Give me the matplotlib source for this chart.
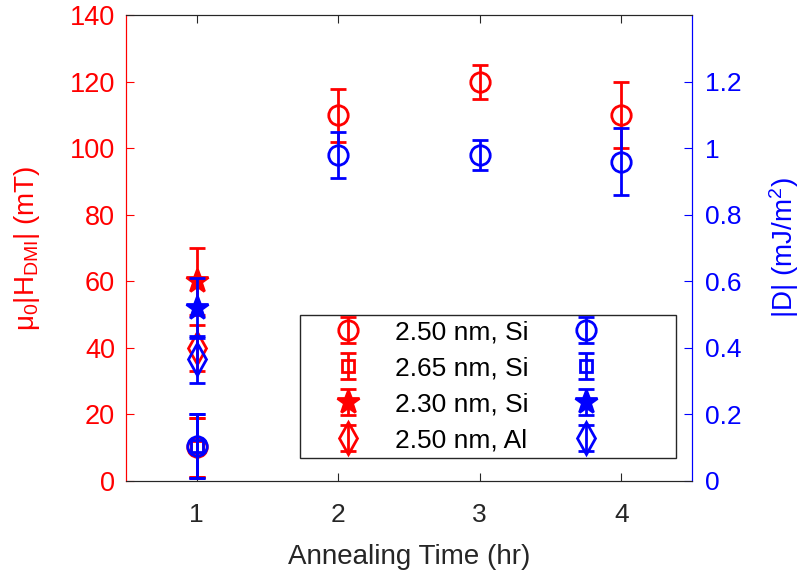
import matplotlib
matplotlib.use("Agg")
import matplotlib.pyplot as plt

plt.rcParams['font.family'] = ['Liberation Sans', 'DejaVu Sans']
plt.rcParams['mathtext.default'] = 'regular'

# annealing time (hr) per sample
t_250si = [1, 2, 3, 4]
t_265si = [1]
t_230si = [1]
t_250al = [1]

# mu0|H_DMI| (mT) and its error
h_250si = [10, 110, 120, 110]
herr_250si = [9, 8, 5, 10]
h_265si = [10]
herr_265si = [9]
h_230si = [60]
herr_230si = [10]
h_250al = [40]
herr_250al = [7]

# |D| (mJ/m^2) and its error
d_250si = [0.105, 0.98, 0.98, 0.96]
derr_250si = [0.097, 0.07, 0.045, 0.10]
d_265si = [0.105]
derr_265si = [0.097]
d_230si = [0.52]
derr_230si = [0.09]
d_250al = [0.365]
derr_250al = [0.07]

labels = ['2.50 nm, Si', '2.65 nm, Si', '2.30 nm, Si', '2.50 nm, Al']
xticks = [1, 2, 3, 4]
left_ticks = [0, 20, 40, 60, 80, 100, 120, 140]
right_ticks = [0, 0.2, 0.4, 0.6, 0.8, 1, 1.2]

red = (1, 0, 0)
blue = (0, 0, 1)
grey = (0.15, 0.15, 0.15)

fig = plt.figure(figsize=(8.04, 5.77), dpi=100)
ax = fig.add_axes([0.1567, 0.1669, 0.704, 0.8063])
ax2 = ax.twinx()

def series(a, t, y, e, marker, ms, color, filled=False):
    return a.errorbar(t, y, yerr=e, fmt=marker, ms=ms, color=color,
                      mfc=color if filled else 'none', mec=color, mew=2,
                      elinewidth=2, capsize=6, capthick=2, linestyle='none')

specs = [('o', 14, False), ('s', 9, False), ('*', 17, True), ('d', 16, False)]
times = [t_250si, t_265si, t_230si, t_250al]

red_h = [series(ax, t, y, e, m, ms, red, f)
         for (m, ms, f), t, y, e in zip(specs, times,
                                        [h_250si, h_265si, h_230si, h_250al],
                                        [herr_250si, herr_265si, herr_230si, herr_250al])]
blue_h = [series(ax2, t, y, e, m, ms, blue, f)
          for (m, ms, f), t, y, e in zip(specs, times,
                                         [d_250si, d_265si, d_230si, d_250al],
                                         [derr_250si, derr_265si, derr_230si, derr_250al])]

ax.set_xlim(0.5, 4.5)
ax.set_ylim(0, 140)
ax2.set_ylim(0, 1.4)
ax.set_xticks(xticks)
ax.set_yticks(left_ticks)
ax2.set_yticks(right_ticks)
ax2.set_yticklabels(['0', '0.2', '0.4', '0.6', '0.8', '1', '1.2'])

ax.tick_params(axis='x', direction='in', length=6, colors=grey, labelsize=19, pad=16, top=True)
ax.tick_params(axis='y', direction='in', length=6, colors=red, labelsize=19.5, pad=8)
ax2.tick_params(axis='y', direction='in', length=6, colors=blue, labelsize=19, pad=9)

for a in (ax, ax2):
    a.spines['top'].set_color(grey)
    a.spines['bottom'].set_color(grey)
    a.spines['left'].set_color(red)
    a.spines['right'].set_color(blue)

ax.set_xlabel('Annealing Time (hr)', fontsize=20, color=grey, labelpad=12)
ax.set_ylabel('μ$_0$|H$_{DMI}$| (mT)', fontsize=20, color=red, labelpad=20)
ax2.set_ylabel('|D| (mJ/m$^2$)', fontsize=20, color=blue, labelpad=19)

# red markers with labels in the first column, blue markers in the second
leg = ax2.legend(red_h + blue_h, labels + ['     '] * 4, ncol=2, loc='lower left',
                 bbox_to_anchor=(0.307, 0.049), borderaxespad=0, fontsize=19,
                 labelspacing=0.45, handlelength=3.2, handletextpad=0.2,
                 columnspacing=0.55, fancybox=False, framealpha=1,
                 edgecolor=grey, borderpad=0.22)
leg.get_frame().set_linewidth(1)

fig.savefig('out.png', dpi=100)
